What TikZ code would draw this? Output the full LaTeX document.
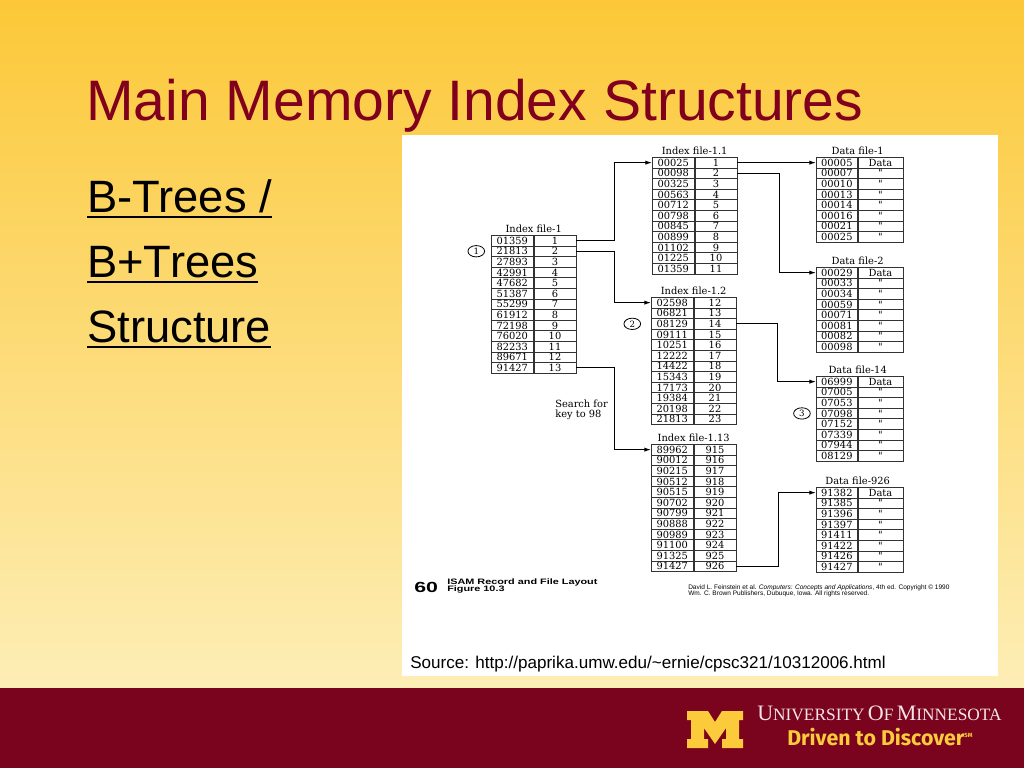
\documentclass[tikz,border=0pt]{standalone}
\usepackage{fontspec}
\setmainfont{Liberation Sans}
\newfontfamily\tabfont{DejaVu Serif}
\newfontfamily\univfont{Liberation Serif}
\newfontfamily\drivefont{Fira Sans}
\usetikzlibrary{positioning,arrows.meta,shapes.geometric}

\definecolor{umnmaroon}{RGB}{122,4,30}
\definecolor{umngold}{RGB}{252,203,60}
\definecolor{titlered}{RGB}{128,0,30}
\definecolor{bgtop}{RGB}{252,200,56}
\definecolor{bgbot}{RGB}{253,238,182}
\definecolor{ucream}{RGB}{246,228,232}

\tikzset{
  cell/.style={draw=black!80, line width=0.5pt, minimum width=31.5pt, minimum height=7.95pt,
    inner sep=0pt, font=\tabfont\fontsize{7.4}{7.4}\selectfont},
  dkey/.style={cell, minimum width=30.75pt},
  dval/.style={cell, minimum width=33.75pt},
  tbllabel/.style={above=1.5pt, inner sep=0pt, font=\tabfont\fontsize{7.4}{7.4}\selectfont},
  link/.style={line width=0.8pt, -{Latex[length=5pt,width=3.2pt]}},
  marker/.style={ellipse, draw, line width=0.6pt, minimum width=12.5pt, minimum height=8.5pt,
    inner sep=0pt, font=\tabfont\fontsize{6.5}{6.5}\selectfont},
  bullet/.style={anchor=base west, inner sep=0pt, font=\fontsize{34}{34}\selectfont},
  plain/.style={anchor=base west, inner sep=0pt}
}

\begin{document}
\begin{tikzpicture}[x=0.75pt,y=-0.75pt]
  \useasboundingbox (0,0) rectangle (1024,768);
  % slide background
  \shade[top color=bgtop, bottom color=bgbot] (0,0) rectangle (1024,688);
  \fill[umnmaroon] (0,688) rectangle (1024,768);
  \fill[white] (402,135) rectangle (998,676);

  % title and bullets
  \node[plain, text=titlered, font=\fontsize{42.8}{42.8}\selectfont] (ttl) at (86,120) {Main Memory Index Structures};
  \node[bullet] (b1) at (87,212) {B-Trees /};
  \node[bullet] (b2) at (87,277) {B+Trees};
  \node[bullet] (b3) at (87,342) {Structure};
  \foreach \b in {b1,b2,b3}
    \draw[line width=1.5pt] ([yshift=-3.8pt]\b.base west) -- ([yshift=-3.8pt]\b.base east);

  % index file-1
  \foreach \k/\v [count=\r] in {01359/1,21813/2,27893/3,42991/4,47682/5,51387/6,55299/7,
      61912/8,72198/9,76020/10,82233/11,89671/12,91427/13}{
    \node[cell, anchor=north west] (ia-\r) at (491,{235+(\r-1)*10.6}) {\k};
    \node[cell, right=0pt of ia-\r] (iav-\r) {\v};
  }
  \node[tbllabel] (la) at (ia-1.north east) {Index file-1};
  \node[marker, left=4.5pt of ia-2] (m1) {1};

  % index file-1.1
  \foreach \k/\v [count=\r] in {00025/1,00098/2,00325/3,00563/4,00712/5,00798/6,00845/7,
      00899/8,01102/9,01225/10,01359/11}{
    \node[cell, anchor=north west] (ib-\r) at (652,{157+(\r-1)*10.6}) {\k};
    \node[cell, right=0pt of ib-\r] (ibv-\r) {\v};
  }
  \node[tbllabel] (lb) at (ib-1.north east) {Index file-1.1};

  % index file-1.2
  \foreach \k/\v [count=\r] in {02598/12,06821/13,08129/14,09111/15,10251/16,12222/17,
      14422/18,15343/19,17173/20,19384/21,20198/22,21813/23}{
    \node[cell, anchor=north west] (ic-\r) at (651,{297+(\r-1)*10.6}) {\k};
    \node[cell, right=0pt of ic-\r] (icv-\r) {\v};
  }
  \node[tbllabel] (lc) at (ic-1.north east) {Index file-1.2};
  \node[marker, left=7.5pt of ic-3] (m2) {2};

  % index file-1.13
  \foreach \k/\v [count=\r] in {89962/915,90012/916,90215/917,90512/918,90515/919,90702/920,
      90799/921,90888/922,90989/923,91100/924,91325/925,91427/926}{
    \node[cell, anchor=north west] (id-\r) at (651,{444+(\r-1)*10.6}) {\k};
    \node[cell, right=0pt of id-\r] (idv-\r) {\v};
  }
  \node[tbllabel] (ld) at (id-1.north east) {Index file-1.13};
  \node[anchor=north west, inner sep=0pt, align=left, font=\tabfont\fontsize{7.4}{7.4}\selectfont] (srch) at (555,400) {Search for\\key to 98};

  % data files
  \foreach \k [count=\r] in {00005,00007,00010,00013,00014,00016,00021,00025}{
    \node[dkey, anchor=north west] (da-\r) at (816,{157+(\r-1)*10.6}) {\k};
    \node[dval, right=0pt of da-\r] (dav-\r) {\ifnum\r=1 Data\else "\fi};
  }
  \node[tbllabel] (lda) at (da-1.north east) {Data file-1};
  \foreach \k [count=\r] in {00029,00033,00034,00059,00071,00081,00082,00098}{
    \node[dkey, anchor=north west] (db-\r) at (816,{267+(\r-1)*10.6}) {\k};
    \node[dval, right=0pt of db-\r] (dbv-\r) {\ifnum\r=1 Data\else "\fi};
  }
  \node[tbllabel] (ldb) at (db-1.north east) {Data file-2};
  \foreach \k [count=\r] in {06999,07005,07053,07098,07152,07339,07944,08129}{
    \node[dkey, anchor=north west] (dc-\r) at (816,{376+(\r-1)*10.6}) {\k};
    \node[dval, right=0pt of dc-\r] (dcv-\r) {\ifnum\r=1 Data\else "\fi};
  }
  \node[tbllabel] (ldc) at (dc-1.north east) {Data file-14};
  \node[marker, left=4pt of dc-4] (m3) {3};
  \foreach \k [count=\r] in {91382,91385,91396,91397,91411,91422,91426,91427}{
    \node[dkey, anchor=north west] (dd-\r) at (816,{487+(\r-1)*10.6}) {\k};
    \node[dval, right=0pt of dd-\r] (ddv-\r) {\ifnum\r=1 Data\else "\fi};
  }
  \node[tbllabel] (ldd) at (dd-1.north east) {Data file-926};

  % pointers
  \draw[link] (iav-1.east) -- ++(38,0) |- (ib-1.west);
  \draw[link] (iav-2.east) -- ++(38,0) |- (ic-1.west);
  \draw[link] (iav-13.east) -- ++(38,0) |- (id-1.west);
  \draw[link] (ibv-1.east) -- (da-1.west);
  \draw[link] (ibv-2.east) -- ++(42,0) |- (db-1.west);
  \draw[link] (icv-3.east) -- ++(41,0) |- (dc-1.west);
  \draw[link] (idv-12.east) -- ++(42,0) |- (dd-1.west);

  % figure caption
  \node[plain, font=\bfseries\fontsize{11}{11}\selectfont] (fnum) at (414,592) {\scalebox{1.45}[1]{60}};
  \node[plain, font=\bfseries\fontsize{5.9}{5.9}\selectfont] (fcap1) at (447,584.5) {\scalebox{1.38}[1]{ISAM Record and File Layout}};
  \node[plain, font=\bfseries\fontsize{5.9}{5.9}\selectfont] (fcap2) at (447,591.5) {\scalebox{1.38}[1]{Figure 10.3}};
  \node[plain, font=\fontsize{4.9}{4.9}\selectfont] (cred1) at (688,589) {David L. Feinstein et al. \textit{Computers: Concepts and Applications}, 4th ed. Copyright \textcopyright\ 1990};
  \node[plain, font=\fontsize{4.9}{4.9}\selectfont] (cred2) at (688,595) {Wm. C. Brown Publishers, Dubuque, Iowa. All rights reserved.};
  \node[plain, font=\fontsize{12.8}{12.8}\selectfont] (src) at (410,668) {Source: http://paprika.umw.edu/\textasciitilde ernie/cpsc321/10312006.html};

  % footer
  \fill[umngold] (687,711) -- (708,711) -- (715,722) -- (722,711) -- (743,711) -- (743,720)
    -- (739,720) -- (739,739) -- (743,739) -- (743,748) -- (722,748) -- (722,739) -- (726,739)
    -- (726,728) -- (715,744) -- (704,728) -- (704,739) -- (708,739) -- (708,748) -- (687,748)
    -- (687,739) -- (691,739) -- (691,720) -- (687,720) -- cycle;
  \node[plain, text=ucream, font=\univfont] (univ) at (757,720)
    {{\fontsize{16.5}{16.5}\selectfont U}{\fontsize{13}{13}\selectfont NIVERSITY}
     {\fontsize{16.5}{16.5}\selectfont O}{\fontsize{13}{13}\selectfont F}
     {\fontsize{16.5}{16.5}\selectfont M}{\fontsize{13}{13}\selectfont INNESOTA}};
  \node[plain, text=umngold, font=\drivefont\bfseries\fontsize{16}{16}\selectfont] (drv) at (787,745)
    {Driven to Discover\raisebox{6pt}{\fontsize{4.5}{4.5}\selectfont SM}};
\end{tikzpicture}
\end{document}
